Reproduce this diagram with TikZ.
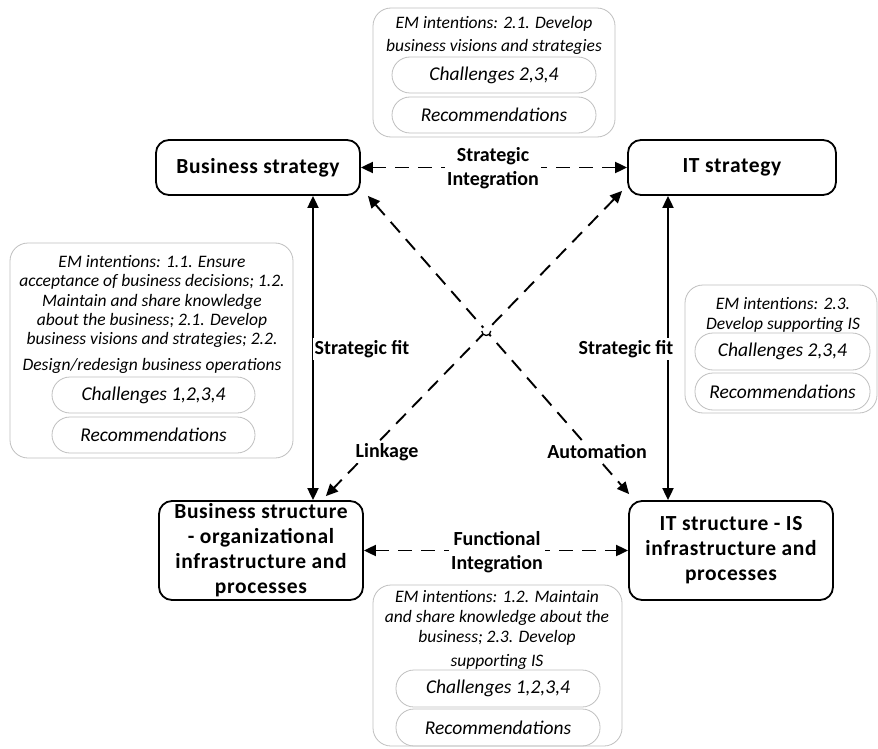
\documentclass[tikz,border=0pt]{standalone}
\usepackage{fontspec}
\setmainfont{Carlito}
\newfontfamily\boxfont[LetterSpace=3]{Carlito}
\usetikzlibrary{arrows.meta}
\begin{document}
\begin{tikzpicture}[x=1pt,y=-1pt,
 mainbox/.style={draw,line width=1.8pt,rounded corners=13pt,font=\boxfont\fontsize{21.5}{25}\selectfont\bfseries,align=center,inner sep=0pt},
 callout/.style={draw=black!25,line width=0.8pt,rounded corners=18pt,inner sep=0pt},
 pill/.style={draw=black!25,line width=0.8pt,rounded corners=18pt,font=\fontsize{19.5}{23}\selectfont\itshape,inner sep=0pt},
 note/.style={font=\fontsize{17.5}{20}\selectfont\itshape,align=center,inner sep=0pt},
 lbl/.style={font=\fontsize{20}{24}\selectfont\bfseries,align=center,fill=white,inner sep=2pt},
 conn/.style={line width=1.9pt,{Triangle[length=12pt,width=11pt]}-{Triangle[length=12pt,width=11pt]}},
 dconn/.style={conn,dash pattern=on 14pt off 9pt},
]
\useasboundingbox (0,0) rectangle (878,749);

% main boxes
\node[mainbox,minimum width=204pt,minimum height=55pt] (bs) at (258,167.5) {Business strategy};
\node[mainbox,minimum width=208pt,minimum height=55pt] (it) at (732,167.5) {IT strategy};
\node[mainbox,minimum width=204pt,minimum height=99pt] (bst) at (261,550.5) {Business structure\\- organizational\\infrastructure and\\processes};
\node[mainbox,minimum width=204pt,minimum height=99pt] (its) at (731,550.5) {IT structure - IS\\infrastructure and\\processes};

% callouts
\node[callout,minimum width=242pt,minimum height=129pt] (ctop) at (494,72.5) {};
\node[note,font=\fontsize{17.5}{23}\selectfont\itshape] (ttop) at (494,35.5) {EM intentions: 2.1. Develop\\business visions and strategies};
\node[pill,minimum width=204pt,minimum height=36pt] (ptop1) at (494,75) {Challenges 2,3,4};
\node[pill,minimum width=204pt,minimum height=36pt] (ptop2) at (494,115) {Recommendations};

\node[callout,minimum width=283pt,minimum height=215pt] (cleft) at (151.5,350.5) {};
\node[note,font=\fontsize{17.5}{19.4}\selectfont\itshape] (tleft) at (152,301.5) {EM intentions: 1.1. Ensure\\acceptance of business decisions; 1.2.\\Maintain and share knowledge\\about the business; 2.1. Develop\\business visions and strategies; 2.2.};
\node[note] (tleft2) at (152,366) {Design/redesign business operations};
\node[pill,minimum width=203pt,minimum height=36pt] (pleft1) at (153.5,395) {Challenges 1,2,3,4};
\node[pill,minimum width=203pt,minimum height=36pt] (pleft2) at (153.5,435) {Recommendations};

\node[callout,minimum width=192pt,minimum height=128pt] (cright) at (781,349) {};
\node[note] (tright) at (783,315) {EM intentions: 2.3.\\Develop supporting IS};
\node[pill,minimum width=175pt,minimum height=37pt] (pright1) at (782.5,351.5) {Challenges 2,3,4};
\node[pill,minimum width=175pt,minimum height=37pt] (pright2) at (782.5,391.5) {Recommendations};

\node[callout,minimum width=249pt,minimum height=161pt] (cbot) at (497.5,665.5) {};
\node[note] (tbot) at (497,618) {EM intentions: 1.2. Maintain\\and share knowledge about the\\business; 2.3. Develop};
\node[note] (tbot2) at (497,662) {supporting IS};
\node[pill,minimum width=204pt,minimum height=37pt] (pbot1) at (498,688.5) {Challenges 1,2,3,4};
\node[pill,minimum width=204pt,minimum height=37pt] (pbot2) at (498,727.5) {Recommendations};

% connectors
\coordinate (lx) at (313,0);
\coordinate (rx) at (668,0);
\draw[conn] (bs.south -| lx) -- (bst.north -| lx);
\draw[conn] (it.south -| rx) -- (its.north -| rx);
\draw[dconn] (bs.east) -- (it.west);
\draw[dconn] (bst.east) -- (its.west);

\coordinate (la) at ([shift={(-5,-5)}]it.south west);
\coordinate (lb) at ([shift={(-38,-4)}]bst.north east);
\coordinate (aa) at ([shift={(7,0)}]bs.south east);
\coordinate (ab) at ([shift={(1,-6)}]its.north west);
\draw[dconn] (la) -- (lb);
\draw[dconn] (aa) -- (ab);
\coordinate (cx) at (intersection of la--lb and aa--ab);
\fill[white] (cx) circle (4.5pt);
\draw[line width=1.3pt] ([shift={(-4.5,0)}]cx) arc[start angle=180,end angle=360,radius=4.5pt];

% labels
\node[lbl] (lsi) at (493,168) {Strategic\\Integration};
\node[lbl] (lfi) at (497,552) {Functional\\Integration};
\node[lbl] (lsf1) at (362,349) {Strategic fit};
\node[lbl] (lsf2) at (626,349) {Strategic fit};
\node[lbl] (llk) at (387,452) {Linkage};
\node[lbl] (lau) at (597,452) {Automation};
\end{tikzpicture}
\end{document}
